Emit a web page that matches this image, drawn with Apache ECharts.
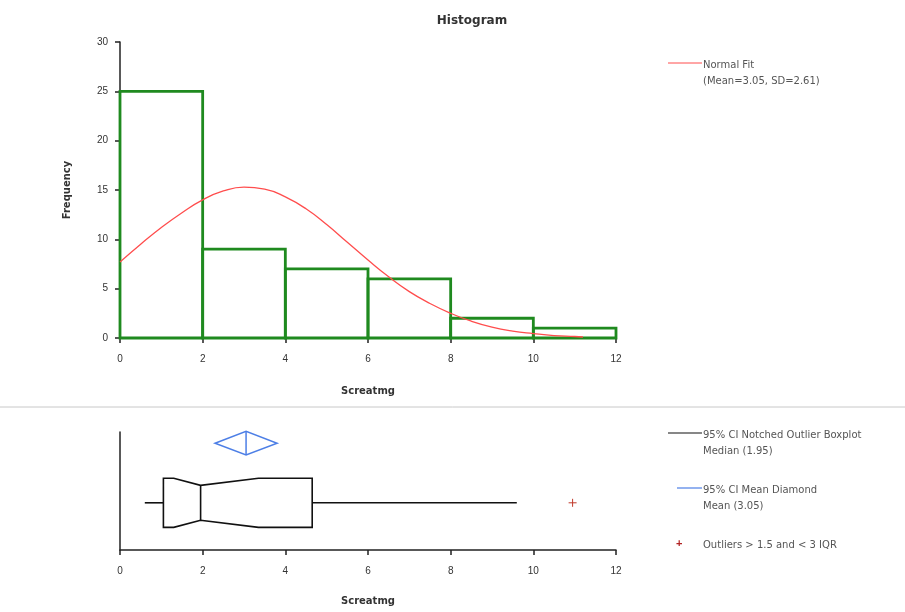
<!DOCTYPE html>
<html>
<head>
<meta charset="utf-8">
<script src="https://cdn.jsdelivr.net/npm/echarts@6/dist/echarts.min.js"></script>
<style>
  html, body { margin: 0; padding: 0; background: #fff; }
  #chart { width: 905px; height: 612px; }
</style>
</head>
<body>
<div id="chart"></div>
<script>
// histogram bins (Screatmg)
var binEdges = [0, 2, 4, 6, 8, 10, 12];
var frequencies = [25, 9, 7, 6, 2, 1];

// normal fit curve (Mean=3.05, SD=2.61)
var fitX = [0, 0.5, 1, 1.5, 2, 2.5, 3, 3.5, 4, 4.5, 5, 5.5, 6, 6.5, 7, 7.5, 8, 8.5, 9, 9.5, 10, 10.5, 11, 11.2];
var fitY = [7.7, 9.5, 11.2, 12.7, 14.0, 14.9, 15.3, 15.1, 14.3, 13.1, 11.5, 9.7, 7.9, 6.2, 4.7, 3.5, 2.5, 1.7, 1.1, 0.7, 0.45, 0.25, 0.15, 0.1];

// notched boxplot: min whisker, Q1, notch low, median, notch high, Q3, max whisker
var boxStats = [0.6, 1.05, 1.3, 1.95, 3.35, 4.65, 9.6];
// mean diamond: lower CI, mean, upper CI
var meanDiamond = [2.3, 3.05, 3.8];
var outliers = [10.95];

var FONT = 'Liberation Sans, Arial, sans-serif';
var BOLD = 'DejaVu Sans, Verdana, sans-serif';
var LEG = '10px DejaVu Sans, Verdana, sans-serif';

var histData = frequencies.map(function (f, i) {
  return [binEdges[i], binEdges[i + 1], f];
});
var fitData = fitX.map(function (x, i) { return [x, fitY[i]]; });

var chart = echarts.init(document.getElementById('chart'));

function axisX(gridIndex, nameGap) {
  return {
    gridIndex: gridIndex,
    type: 'value',
    min: 0, max: 12, interval: 2,
    name: 'Screatmg',
    nameLocation: 'middle',
    nameGap: nameGap,
    nameTextStyle: { fontFamily: BOLD, fontWeight: 'bold', fontSize: 10, color: '#333' },
    axisLine: { show: true, onZero: false, lineStyle: { color: '#222', width: 1.5 } },
    axisTick: { show: true, length: 5, lineStyle: { color: '#222', width: 1.5 } },
    axisLabel: { fontFamily: FONT, fontSize: 10, color: '#333', margin: 16 },
    splitLine: { show: false }
  };
}

var option = {
  animation: false,
  backgroundColor: '#fff',
  title: {
    text: 'Histogram',
    left: 467, top: 10, textAlign: 'center',
    textStyle: { fontFamily: BOLD, fontWeight: 'bold', fontSize: 12, color: '#333' }
  },
  grid: [
    { left: 120, top: 42, width: 496, height: 296 },
    { left: 120, top: 432, width: 496, height: 118 }
  ],
  xAxis: [axisX(0, 48), axisX(1, 46)],
  yAxis: [
    {
      gridIndex: 0, type: 'value', min: 0, max: 30, interval: 5,
      name: 'Frequency', nameLocation: 'middle', nameGap: 48,
      nameTextStyle: { fontFamily: BOLD, fontWeight: 'bold', fontSize: 10, color: '#333' },
      axisLine: { show: true, lineStyle: { color: '#222', width: 1.5 } },
      axisTick: { show: true, length: 5, lineStyle: { color: '#222', width: 1.5 } },
      axisLabel: { fontFamily: FONT, fontSize: 10, color: '#333', margin: 12 },
      splitLine: { show: false }
    },
    {
      gridIndex: 1, type: 'value', min: 0, max: 1,
      axisLine: { show: true, lineStyle: { color: '#222', width: 1.5 } },
      axisTick: { show: false },
      axisLabel: { show: false },
      splitLine: { show: false }
    }
  ],
  graphic: [
    { type: 'line', shape: { x1: 0, y1: 407, x2: 905, y2: 407 }, style: { stroke: '#c8c8c8', lineWidth: 1 } },
    // legend: normal fit
    { type: 'line', shape: { x1: 668, y1: 63, x2: 702, y2: 63 }, style: { stroke: '#ff4d4d', lineWidth: 1 } },
    { type: 'text', left: 703, top: 57, style: { text: 'Normal Fit\n(Mean=3.05, SD=2.61)', font: LEG, fill: '#555', lineHeight: 16 } },
    // legend: boxplot
    { type: 'line', shape: { x1: 668, y1: 433, x2: 702, y2: 433 }, style: { stroke: '#111', lineWidth: 1.2 } },
    { type: 'text', left: 703, top: 427, style: { text: '95% CI Notched Outlier Boxplot\nMedian (1.95)', font: LEG, fill: '#555', lineHeight: 16 } },
    // legend: mean diamond
    { type: 'line', shape: { x1: 677, y1: 488, x2: 702, y2: 488 }, style: { stroke: '#4d7fe6', lineWidth: 1.2 } },
    { type: 'text', left: 703, top: 482, style: { text: '95% CI Mean Diamond\nMean (3.05)', font: LEG, fill: '#555', lineHeight: 16 } },
    // legend: outliers
    { type: 'text', left: 676, top: 538, style: { text: '+', font: 'bold 11px ' + FONT, fill: '#b22222' } },
    { type: 'text', left: 703, top: 540, style: { text: 'Outliers > 1.5 and < 3 IQR', font: LEG, fill: '#555' } }
  ],
  series: [
    {
      type: 'custom',
      xAxisIndex: 0, yAxisIndex: 0,
      data: histData,
      renderItem: function (params, api) {
        var p0 = api.coord([api.value(0), api.value(2)]);
        var p1 = api.coord([api.value(1), 0]);
        return {
          type: 'rect',
          shape: { x: p0[0], y: p0[1], width: p1[0] - p0[0], height: p1[1] - p0[1] },
          style: { fill: 'none', stroke: '#1f8a1f', lineWidth: 2.8 }
        };
      },
      z: 2
    },
    {
      type: 'line',
      xAxisIndex: 0, yAxisIndex: 0,
      data: fitData,
      smooth: true,
      showSymbol: false,
      lineStyle: { color: '#ff4d4d', width: 1.3 },
      z: 3
    },
    {
      type: 'custom',
      xAxisIndex: 1, yAxisIndex: 1,
      data: [boxStats],
      renderItem: function (params, api) {
        var yc = 0.40, hb = 0.208, hn = 0.148;
        function c(x, y) { return api.coord([api.value(x), y]); }
        var pts = [
          c(1, yc + hb), c(2, yc + hb), c(3, yc + hn), c(4, yc + hb), c(5, yc + hb),
          c(5, yc - hb), c(4, yc - hb), c(3, yc - hn), c(2, yc - hb), c(1, yc - hb)
        ];
        var st = { stroke: '#111', lineWidth: 1.6, fill: 'none' };
        return {
          type: 'group',
          children: [
            { type: 'polygon', shape: { points: pts }, style: st },
            { type: 'line', shape: { x1: c(3, yc + hn)[0], y1: c(3, yc + hn)[1], x2: c(3, yc - hn)[0], y2: c(3, yc - hn)[1] }, style: st },
            { type: 'line', shape: { x1: c(0, yc)[0], y1: c(0, yc)[1], x2: c(1, yc)[0], y2: c(1, yc)[1] }, style: st },
            { type: 'line', shape: { x1: c(5, yc)[0], y1: c(5, yc)[1], x2: c(6, yc)[0], y2: c(6, yc)[1] }, style: st }
          ]
        };
      }
    },
    {
      type: 'custom',
      xAxisIndex: 1, yAxisIndex: 1,
      data: [meanDiamond],
      renderItem: function (params, api) {
        var yc = 0.905, h = 0.1;
        var l = api.coord([api.value(0), yc]);
        var r = api.coord([api.value(2), yc]);
        var t = api.coord([api.value(1), yc + h]);
        var b = api.coord([api.value(1), yc - h]);
        var st = { stroke: '#4d7fe6', lineWidth: 1.5, fill: 'none' };
        return {
          type: 'group',
          children: [
            { type: 'polygon', shape: { points: [l, t, r, b] }, style: st },
            { type: 'line', shape: { x1: t[0], y1: t[1], x2: b[0], y2: b[1] }, style: st }
          ]
        };
      }
    },
    {
      type: 'custom',
      xAxisIndex: 1, yAxisIndex: 1,
      data: outliers.map(function (v) { return [v]; }),
      renderItem: function (params, api) {
        var p = api.coord([api.value(0), 0.40]);
        var st = { stroke: '#c0392b', lineWidth: 1 };
        return {
          type: 'group',
          children: [
            { type: 'line', shape: { x1: p[0] - 4, y1: p[1], x2: p[0] + 4, y2: p[1] }, style: st },
            { type: 'line', shape: { x1: p[0], y1: p[1] - 4, x2: p[0], y2: p[1] + 4 }, style: st }
          ]
        };
      }
    }
  ]
};

chart.setOption(option);
</script>
</body>
</html>
